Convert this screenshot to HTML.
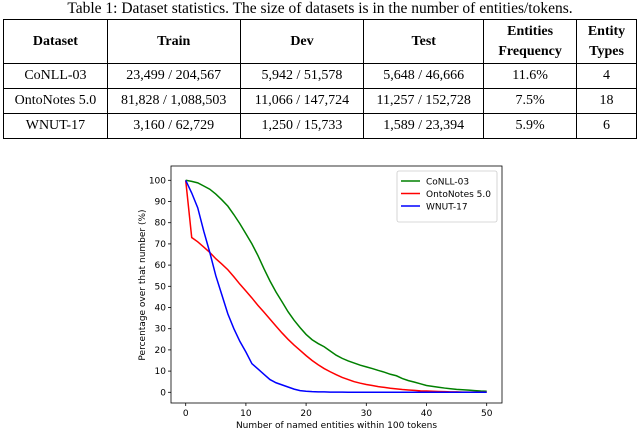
<!DOCTYPE html>
<html><head><meta charset="utf-8">
<style>
body{margin:0;width:640px;height:429px;background:#fff;overflow:hidden;position:relative;font-family:"Liberation Serif",serif;}
#cap{position:absolute;top:0;left:0;width:640px;text-align:center;font-size:15.5px;line-height:18px;}
table{position:absolute;top:19px;left:3px;width:634px;border-collapse:collapse;font-size:14px;}
td,th{border:1px solid #000;text-align:center;padding:0;}
th{height:43px;line-height:20px;font-weight:bold;}
td{height:24px;}
svg{position:absolute;left:0;top:0;}
</style></head><body>
<div id="cap">Table 1: Dataset statistics. The size of datasets is in the number of entities/tokens.</div>
<table>
<colgroup><col style="width:104px"><col style="width:133px"><col style="width:124px"><col style="width:120px"><col style="width:93px"><col style="width:60px"></colgroup>
<tr><th>Dataset</th><th>Train</th><th>Dev</th><th>Test</th><th>Entities<br>Frequency</th><th>Entity<br>Types</th></tr>
<tr><td>CoNLL-03</td><td>23,499 / 204,567</td><td>5,942 / 51,578</td><td>5,648 / 46,666</td><td>11.6%</td><td>4</td></tr>
<tr><td>OntoNotes 5.0</td><td>81,828 / 1,088,503</td><td>11,066 / 147,724</td><td>11,257 / 152,728</td><td>7.5%</td><td>18</td></tr>
<tr><td>WNUT-17</td><td>3,160 / 62,729</td><td>1,250 / 15,733</td><td>1,589 / 23,394</td><td>5.9%</td><td>6</td></tr>
</table>
<svg id="chart" width="640" height="429" font-family="'DejaVu Sans',sans-serif"></svg>
<script>
const conll=[100,99.5,98.8,97.3,95.8,93.5,90.8,87.8,83.8,79.5,74.8,70,64.5,58.3,52.5,47.3,42.7,38,34,30.5,27.3,24.8,23,21.5,19.5,17.5,16,14.8,13.8,12.8,12,11.2,10.3,9.5,8.5,7.8,6.5,5.5,4.8,4,3.2,2.8,2.4,2,1.7,1.4,1.2,1,0.8,0.6,0.5];
const onto=[100,73,71,68.5,66,63,60.5,57.8,54.5,51,47.8,44.5,41,37.8,34.5,31.2,28,25,22.3,19.8,17.3,15,13,11.2,9.7,8.3,7,6,5,4.3,3.7,3.2,2.7,2.3,1.9,1.6,1.3,1.1,0.9,0.7,0.6,0.5,0.4,0.3,0.2,0.2,0.1,0.1,0.1,0.1,0.1];
const wnut=[100,94,87,76,66,55,46,37,30,24,19,13.5,11,8.5,6,4.5,3.5,2.5,1.5,0.8,0.5,0.3,0.2,0.2,0.1,0.1,0.1,0,0,0,0,0,0,0,0,0,0,0,0,0,0,0,0,0,0,0,0,0,0,0,0];
const xTicks=[0,10,20,30,40,50];
const yTicks=[0,10,20,30,40,50,60,70,80,90,100];
const seriesNames=["CoNLL-03","OntoNotes 5.0","WNUT-17"];
const colors=["green","red","blue"];
const svg=document.getElementById('chart');const NS='http://www.w3.org/2000/svg';
const X=v=>185.7+v*6.02, Y=v=>392.3-v*2.12;
function el(t,a,p){const e=document.createElementNS(NS,t);for(const k in a)e.setAttribute(k,a[k]);(p||svg).appendChild(e);return e;}
const frame=el('rect',{x:171,y:166,width:331,height:237,fill:'none',stroke:'#000','stroke-width':0.8});


xTicks.forEach(t=>{el('line',{x1:X(t),x2:X(t),y1:403,y2:406,stroke:'#000','stroke-width':0.8});
 const tx=el('text',{x:X(t),y:416,'font-size':9,'text-anchor':'middle'});tx.textContent=t;
 
 });
yTicks.forEach(t=>{el('line',{x1:168,x2:171,y1:Y(t),y2:Y(t),stroke:'#000','stroke-width':0.8});
 const tx=el('text',{x:166,y:Y(t)+3,'font-size':9,'text-anchor':'end'});tx.textContent=t;
 
 });
const xt=el('text',{x:336.5,y:428,'font-size':9,'text-anchor':'middle'});xt.textContent='Number of named entities within 100 tokens';


const yt=el('text',{x:0,y:0,'font-size':9,'text-anchor':'middle',transform:'translate(145,285) rotate(-90)'});yt.textContent='Percentage over that number (%)';


[conll,onto,wnut].forEach((s,i)=>{const p=el('polyline',{points:s.map((v,j)=>X(j)+','+Y(v)).join(' '),fill:'none',stroke:colors[i],'stroke-width':1.5});
 
 });
const lg=el('rect',{x:397,y:171,width:100,height:51,fill:'#fff',stroke:'#ccc','stroke-width':0.8,rx:2});


seriesNames.forEach((n,i)=>{const y=181+i*12.5;el('line',{x1:401,x2:420,y1:y,y2:y,stroke:colors[i],'stroke-width':1.5});
 const t=el('text',{x:426,y:y+3.5,'font-size':9});t.textContent=n;
 
 });
</script>
</body></html>
